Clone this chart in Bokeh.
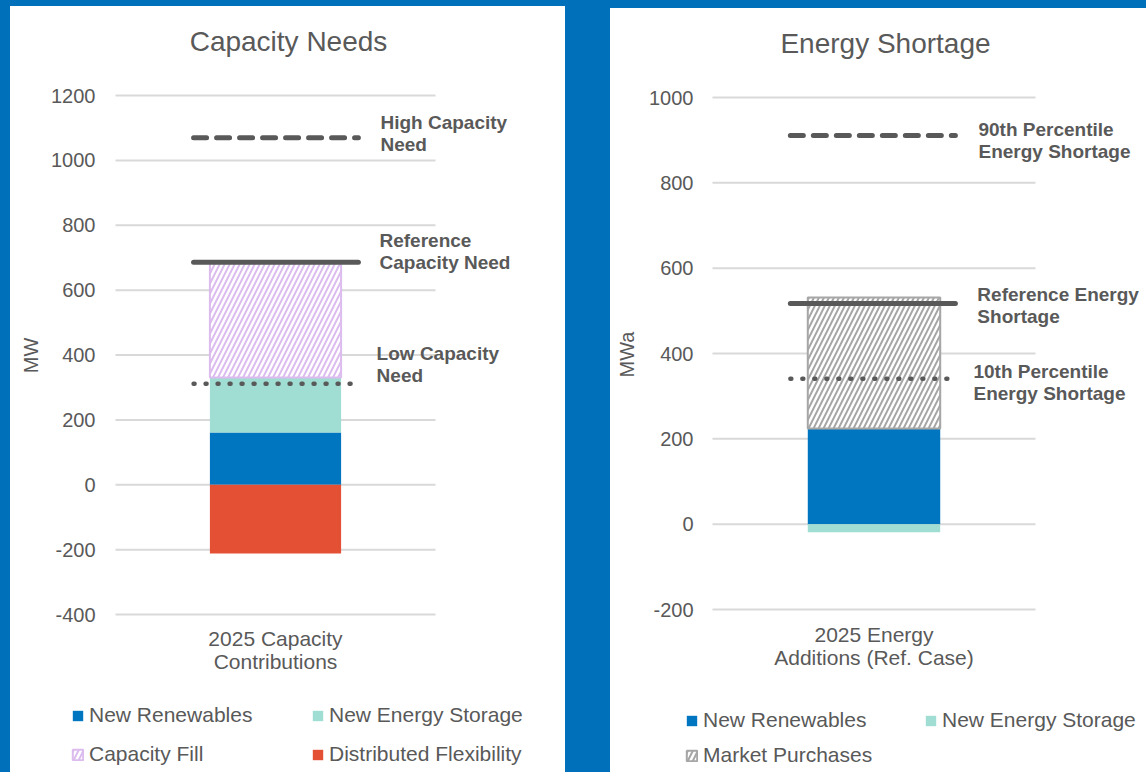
import numpy as np
from bokeh.plotting import figure
from bokeh.models import (ColumnDataSource, LinearAxis, FixedTicker, Label, Legend,
                          LegendItem, Range1d, GlobalInlineStyleSheet)
from bokeh.layouts import row
from bokeh.embed import file_html
from bokeh.resources import INLINE
from bokeh.core.properties import value

# ---------------- data ----------------
cap_title = "Capacity Needs"
cap_ylabel = "MW"
cap_category = ["2025 Capacity\nContributions"]
cap_ticks = [-400, -200, 0, 200, 400, 600, 800, 1000, 1200]
cap_renewables = [161]
cap_storage = [170]
cap_fill = [355]
cap_flex = [-212]
cap_need_labels = ["High Capacity\nNeed", "Reference\nCapacity Need", "Low Capacity\nNeed"]
cap_need_values = [1070, 686, 311]

en_title = "Energy Shortage"
en_ylabel = "MWa"
en_category = ["2025 Energy\nAdditions (Ref. Case)"]
en_ticks = [-200, 0, 200, 400, 600, 800, 1000]
en_renewables = [224]
en_market = [307]
en_storage = [-19]
en_need_labels = ["90th Percentile\nEnergy Shortage", "Reference Energy\nShortage",
                  "10th Percentile\nEnergy Shortage"]
en_need_values = [911, 517, 341]

# ---------------- style ----------------
FONT = "Liberation Sans"
GREY = "#595959"
GRID = "#D9D9D9"
BLUE = "#0076C0"
TEAL = "#A0DDD2"
RED = "#E35034"
LAV = "#DCBCEF"
HGREY = "#A6A6A6"
BG = "#0070BA"
LINE_STYLES = [dict(line_dash="13 10", line_cap="round", line_width=5),
               dict(line_dash="solid", line_cap="round", line_width=5),
               dict(line_dash="1 11", line_cap="round", line_width=4.5)]


def base_fig(width, height, xr, yr, ticks, cat_label, y_bottom, std_x, std_y):
    p = figure(width=width, height=height, output_backend="svg", toolbar_location=None,
               x_range=Range1d(*xr), y_range=Range1d(*yr), x_axis_location=None,
               y_axis_location=None, min_border_left=0, min_border_right=0,
               min_border_top=0, min_border_bottom=0, background_fill_color="white",
               border_fill_color="white", outline_line_color=None)
    p.xgrid.visible = False
    p.ygrid.visible = False
    p.styles = {"background-color": "white"}
    ya = LinearAxis(fixed_location=0, ticker=FixedTicker(ticks=ticks),
                    major_label_overrides={t: str(t) for t in ticks})
    xa = LinearAxis(fixed_location=y_bottom, ticker=FixedTicker(ticks=[0.5]),
                    major_label_overrides={0.5: cat_label})
    for ax in (ya, xa):
        ax.axis_line_color = None
        ax.major_tick_line_color = None
        ax.minor_tick_line_color = None
        ax.major_tick_out = 0
        ax.major_tick_in = 0
        ax.minor_tick_out = 0
        ax.major_label_text_font = FONT
        ax.major_label_text_color = GREY
    ya.major_label_standoff = std_y
    ya.major_label_text_font_size = "20px"
    xa.major_label_standoff = std_x
    xa.major_label_text_font_size = "21px"
    xa.major_label_text_line_height = 1.0
    p.add_layout(ya, "left")
    p.add_layout(xa, "below")
    # horizontal gridlines, limited to the plotting area
    gsrc = ColumnDataSource(dict(y=ticks, x0=[0] * len(ticks), x1=[1] * len(ticks)))
    p.segment(x0="x0", x1="x1", y0="y", y1="y", source=gsrc, line_color=GRID, line_width=2)
    return p


def add_needs(p, labels, values, line_x, text_xs, text_dys):
    for v, st in zip(values, LINE_STYLES):
        p.segment(x0=line_x[0], x1=line_x[1], y0=v, y1=v, line_color=GREY, **st)
    src = ColumnDataSource(dict(x=text_xs, y=values, t=labels, dy=text_dys))
    p.text(x="x", y="y", text="t", y_offset="dy", source=src, text_font=value(FONT),
           text_font_style="bold", text_font_size="19px", text_color=GREY,
           text_baseline="middle", text_align="left", text_line_height=1.05)


def add_legend(p, items, loc, spacing):
    lg = Legend(items=items, location=loc, orientation="vertical", padding=0, margin=0,
                spacing=spacing, border_line_color=None, background_fill_alpha=0,
                glyph_width=13, glyph_height=13, label_height=26, label_standoff=5,
                label_text_font=FONT, label_text_font_size="21px", label_text_color=GREY)
    p.add_layout(lg)


# ---------------- left panel: Capacity Needs ----------------
# figure occupies page x 10..565, y 6..772
c_px = 0.324375   # px per MW
c_zero = 484.25   # page y of 0 MW
c_x0, c_xs = 115, 320.0
c_yr = ((c_zero - 772) / c_px, (c_zero - 6) / c_px)
c_xr = ((10 - c_x0) / c_xs, (565 - c_x0) / c_xs)
p1 = base_fig(555, 766, c_xr, c_yr, cap_ticks, cap_category[0], cap_ticks[0], 12, 20)

pos = np.array([cap_renewables[0], cap_storage[0], cap_fill[0]], dtype=float)
c_bot = np.concatenate([[0], np.cumsum(pos)[:-1]])
c_top = np.cumsum(pos)
r_ren = p1.vbar(x=[0.5], width=0.41, bottom=[c_bot[0]], top=[c_top[0]], fill_color=BLUE,
                line_color=None)
r_sto = p1.vbar(x=[0.5], width=0.41, bottom=[c_bot[1]], top=[c_top[1]], fill_color=TEAL,
                line_color=None)
r_fill = p1.vbar(x=[0.5], width=0.41, bottom=[c_bot[2]], top=[c_top[2]], fill_color="white",
                 line_color=LAV, line_width=2, hatch_pattern="/", hatch_color=LAV,
                 hatch_weight=2, hatch_scale=10)
r_flex = p1.vbar(x=[0.5], width=0.41, bottom=[0], top=cap_flex, fill_color=RED,
                 line_color=None)
add_needs(p1, cap_need_labels, cap_need_values, (0.244, 0.759),
          [0.828, 0.825, 0.816], [-4, -11, -19])
p1.add_layout(Label(x=(288 - c_x0) / c_xs, y=(c_zero - 41) / c_px, text=cap_title,
                    text_font=FONT, text_font_size="28px", text_color=GREY,
                    text_align="center", text_baseline="middle"))
p1.add_layout(Label(x=(30 - c_x0) / c_xs, y=(c_zero - 355) / c_px, text=cap_ylabel,
                    angle=np.pi / 2, text_font=FONT, text_font_size="20px",
                    text_color=GREY, text_align="center", text_baseline="middle"))
add_legend(p1, [LegendItem(label="New Renewables", renderers=[r_ren]),
                LegendItem(label="Capacity Fill", renderers=[r_fill])], (61, 5), 13)
add_legend(p1, [LegendItem(label="New Energy Storage", renderers=[r_sto]),
                LegendItem(label="Distributed Flexibility", renderers=[r_flex])], (301, 5), 13)

# ---------------- right panel: Energy Shortage ----------------
# figure occupies page x 610..1146, y 8..772
e_px = 0.42667
e_zero = 523.67
e_x0, e_xs = 712, 323.0
e_yr = ((e_zero - 772) / e_px, (e_zero - 8) / e_px)
e_xr = ((610 - e_x0) / e_xs, (1146 - e_x0) / e_xs)
p2 = base_fig(536, 764, e_xr, e_yr, en_ticks, en_category[0], en_ticks[0], 13, 19)

e_pos = np.array([en_renewables[0], en_market[0]], dtype=float)
e_bot = np.concatenate([[0], np.cumsum(e_pos)[:-1]])
e_top = np.cumsum(e_pos)
q_ren = p2.vbar(x=[0.5], width=0.41, bottom=[e_bot[0]], top=[e_top[0]], fill_color=BLUE,
                line_color=None)
q_sto = p2.vbar(x=[0.5], width=0.41, bottom=[0], top=en_storage, fill_color=TEAL,
                line_color=None)
q_mkt = p2.vbar(x=[0.5], width=0.41, bottom=[e_bot[1]], top=[e_top[1]], fill_color="white",
                line_color=HGREY, line_width=2, hatch_pattern="/", hatch_color=HGREY,
                hatch_weight=2, hatch_scale=10)
add_needs(p2, en_need_labels, en_need_values, (0.241, 0.752),
          [0.8235, 0.820, 0.808], [5, 2, 4])
p2.add_layout(Label(x=(885 - e_x0) / e_xs, y=(e_zero - 43) / e_px, text=en_title,
                    text_font=FONT, text_font_size="28px", text_color=GREY,
                    text_align="center", text_baseline="middle"))
p2.add_layout(Label(x=(626 - e_x0) / e_xs, y=(e_zero - 354) / e_px, text=en_ylabel,
                    angle=np.pi / 2, text_font=FONT, text_font_size="20px",
                    text_color=GREY, text_align="center", text_baseline="middle"))
add_legend(p2, [LegendItem(label="New Renewables", renderers=[q_ren]),
                LegendItem(label="Market Purchases", renderers=[q_mkt])], (75, 4), 9)
add_legend(p2, [LegendItem(label="New Energy Storage", renderers=[q_sto])], (314, 39), 9)

p1.margin = (6, 45, 0, 10)
p2.margin = (8, 0, 0, 0)
layout = row(p1, p2, stylesheets=[GlobalInlineStyleSheet(css="body { background-color: %s; }" % BG)])

open("out.html", "w").write(file_html(layout, INLINE))
